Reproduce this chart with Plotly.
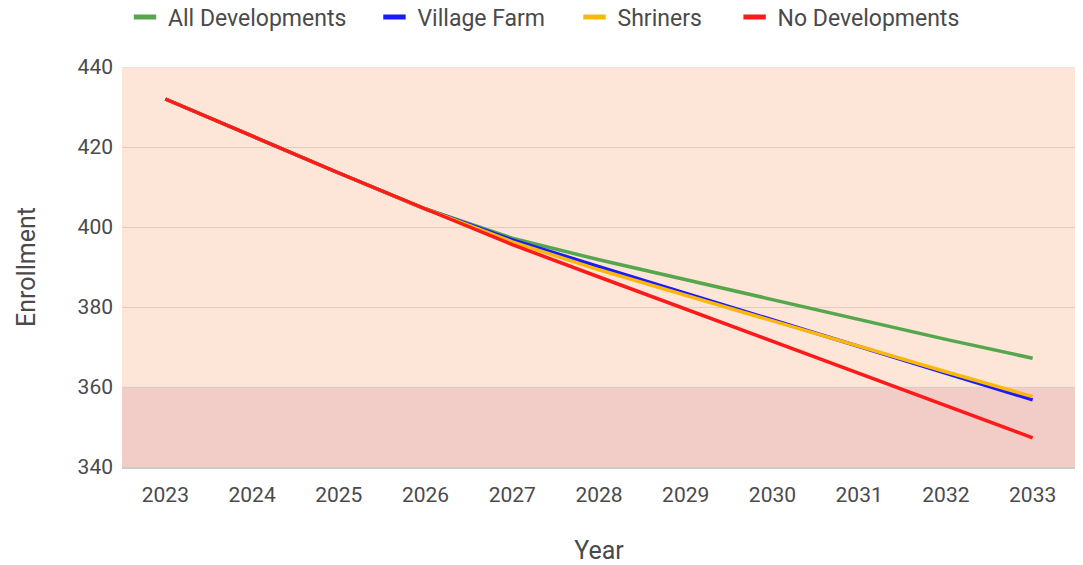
import plotly.graph_objects as go

years = [str(y) for y in range(2023, 2034)]

all_dev = [432, 422.7, 413.5, 404.5, 397.2, 391.8, 386.8, 381.8, 376.8, 371.9, 367.2]
village_farm = [432, 422.7, 413.5, 404.5, 396.8, 390.1, 383.4, 376.8, 370.1, 363.4, 356.8]
shriners = [432, 422.7, 413.5, 404.5, 396.3, 389.3, 382.9, 376.5, 370.2, 363.8, 357.6]
no_dev = [432, 422.7, 413.5, 404.5, 395.6, 387.5, 379.5, 371.4, 363.3, 355.3, 347.3]

series = [
    ("All Developments", all_dev, "#55a64c"),
    ("Village Farm", village_farm, "#1a1aff"),
    ("Shriners", shriners, "#fbb80a"),
    ("No Developments", no_dev, "#ff1a1a"),
]

# band limits
ok_band = [360, 440]
low_band = [340, 360]

fig = go.Figure()

for name, vals, col in series:
    fig.add_trace(go.Scatter(x=years, y=vals, mode="lines", name=name,
                             line=dict(color=col, width=3.5), showlegend=False))

# one legend per entry so the spacing can follow the original
legend_x = [0.0, 0.2615, 0.4712, 0.639]
legend_names = ["legend", "legend2", "legend3", "legend4"]
for (name, vals, col), lg in zip(series, legend_names):
    fig.add_trace(go.Scatter(x=[None], y=[None], mode="markers", name=name, legend=lg,
                             marker=dict(symbol="line-ew", size=22,
                                         line=dict(color=col, width=6))))

fig.add_hrect(y0=ok_band[0], y1=ok_band[1], fillcolor="#fde5d7", line_width=0, layer="below")
fig.add_hrect(y0=low_band[0], y1=low_band[1], fillcolor="#f2ccc7", line_width=0, layer="below")
fig.add_hline(y=360, line=dict(color="#ebe4e3", width=2), layer="below")
fig.add_hline(y=440, line=dict(color="#e2dcda", width=1), layer="below")

# page body has an 8px margin, so the figure is offset accordingly
fig.update_layout(
    width=1075, height=557,
    margin=dict(l=114, r=7, t=59, b=98, autoexpand=False),
    paper_bgcolor="white", plot_bgcolor="white",
    font=dict(family="Roboto, Arial, sans-serif", size=21, color="#4a4a4a"),
    xaxis=dict(title=dict(text="Year", standoff=38), range=[-0.5, 10.5],
               showgrid=False, showline=True, linecolor="#cccccc", linewidth=2,
               ticks="", tickfont=dict(size=21), ticklabelstandoff=8),
    yaxis=dict(title=dict(text="Enrollment", standoff=34), range=[340, 440],
               dtick=20, gridcolor="#e4cbbb", gridwidth=1, zeroline=False,
               ticks="", tickfont=dict(size=21), ticklabelstandoff=8),
)
for lg, lx in zip(legend_names, legend_x):
    fig.update_layout({lg: dict(orientation="v", x=lx, xanchor="left", y=1.125,
                                yanchor="middle", itemwidth=36,
                                font=dict(size=23, color="#4a4a4a"),
                                bgcolor="rgba(0,0,0,0)")})

fig.write_html("out.html")
